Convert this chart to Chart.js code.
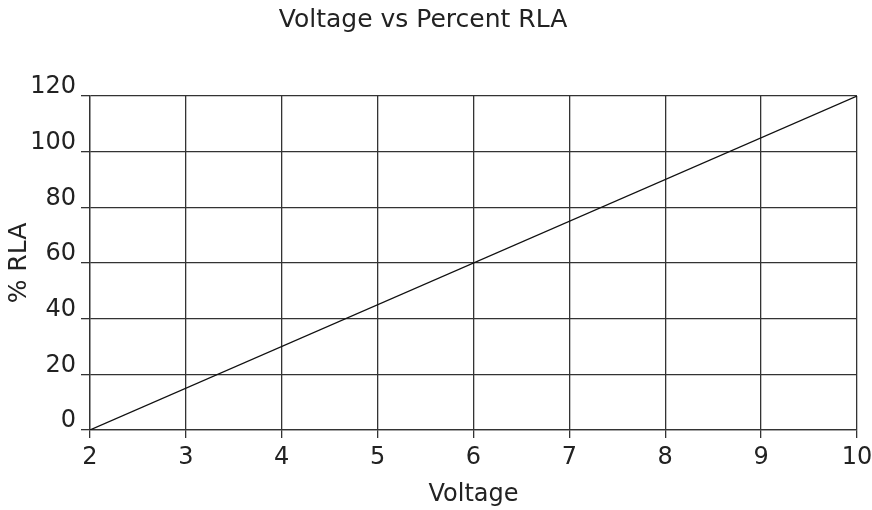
<!DOCTYPE html>
<html>
<head>
<meta charset="utf-8">
<script src="https://cdn.jsdelivr.net/npm/chart.js@4.4.1/dist/chart.umd.min.js"></script>
<style>
  html, body { margin: 0; padding: 0; background: #fff; }
  #wrap { width: 872px; height: 510px; }
</style>
</head>
<body>
<div id="wrap"><canvas id="myChart" width="872" height="510"></canvas></div>
<script>
// Data
const voltage = [2, 10];
const percentRLA = [0, 120];
const xTicks = [2, 3, 4, 5, 6, 7, 8, 9, 10];
const yTicks = [0, 20, 40, 60, 80, 100, 120];

const points = voltage.map((v, i) => ({ x: v, y: percentRLA[i] }));
const font = "'DejaVu Sans', sans-serif";
const gridColor = '#333';

const ctx = document.getElementById('myChart').getContext('2d');
const myChart = new Chart(ctx, {
    type: 'scatter',
    data: {
        datasets: [{
            data: points,
            showLine: true,
            borderColor: '#111',
            borderWidth: 1.2,
            pointRadius: 0,
            fill: false
        }]
    },
    options: {
        responsive: false,
        animation: false,
        // negative left padding so the main title sits a bit left of canvas centre
        layout: { padding: { left: -26, right: 0, top: 0, bottom: 0 } },
        plugins: {
            legend: { display: false },
            tooltip: { enabled: false },
            title: {
                display: true,
                text: 'Voltage vs Percent RLA',
                color: '#222',
                font: { family: font, size: 25, weight: 'normal' },
                padding: { top: 5, bottom: 61 }
            }
        },
        scales: {
            x: {
                type: 'linear',
                min: 2,
                max: 10,
                afterBuildTicks: s => { s.ticks = xTicks.map(v => ({ value: v })); },
                ticks: { color: '#222', font: { family: font, size: 24 }, padding: 5 },
                grid: { color: gridColor, lineWidth: 1.3, tickLength: 8 },
                border: { color: gridColor, width: 1.3 },
                title: {
                    display: true,
                    text: 'Voltage',
                    color: '#222',
                    font: { family: font, size: 24 },
                    padding: { top: 10, bottom: 1 }
                },
                afterFit: s => { s.height = 80; s.paddingRight = 15; s.paddingLeft = 0; }
            },
            y: {
                min: 0,
                max: 120,
                afterBuildTicks: s => { s.ticks = yTicks.map(v => ({ value: v })); },
                ticks: { color: '#222', font: { family: font, size: 24 }, padding: 5, labelOffset: -9 },
                grid: { color: gridColor, lineWidth: 1.3, tickLength: 9 },
                border: { color: gridColor, width: 1.3 },
                title: {
                    display: true,
                    text: '% RLA',
                    color: '#222',
                    font: { family: font, size: 25 },
                    padding: { top: 30, bottom: 0 }
                },
                afterFit: s => { s.width = 116; }
            }
        }
    }
});
</script>
</body>
</html>
